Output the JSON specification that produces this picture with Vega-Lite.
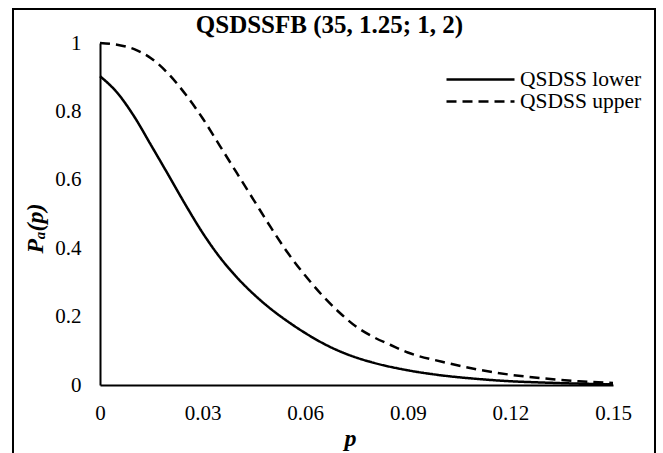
{
  "$schema": "https://vega.github.io/schema/vega-lite/v6.json",
  "width": 513,
  "height": 342,
  "autosize": {"type": "none"},
  "padding": {"left": 100, "top": 43, "right": 50, "bottom": 68},
  "background": "white",
  "config": {"view": {"stroke": null}, "font": "Liberation Serif", "legend": {"labelFont": "Liberation Serif"}},
  "title": {
    "text": "QSDSSFB (35, 1.25; 1, 2)",
    "font": "Liberation Serif",
    "fontSize": 25,
    "fontWeight": "bold",
    "color": "black",
    "anchor": "middle",
    "frame": "group",
    "dx": -27,
    "baseline": "alphabetic",
    "offset": -50
  },
  "datasets": {
    "curves": [
      {"p": 0, "v": 0.903, "series": "QSDSS lower"},
      {"p": 0.005, "v": 0.855, "series": "QSDSS lower"},
      {"p": 0.01, "v": 0.785, "series": "QSDSS lower"},
      {"p": 0.015, "v": 0.7, "series": "QSDSS lower"},
      {"p": 0.02, "v": 0.614, "series": "QSDSS lower"},
      {"p": 0.025, "v": 0.527, "series": "QSDSS lower"},
      {"p": 0.03, "v": 0.445, "series": "QSDSS lower"},
      {"p": 0.035, "v": 0.374, "series": "QSDSS lower"},
      {"p": 0.04, "v": 0.315, "series": "QSDSS lower"},
      {"p": 0.045, "v": 0.265, "series": "QSDSS lower"},
      {"p": 0.05, "v": 0.222, "series": "QSDSS lower"},
      {"p": 0.055, "v": 0.185, "series": "QSDSS lower"},
      {"p": 0.06, "v": 0.152, "series": "QSDSS lower"},
      {"p": 0.065, "v": 0.123, "series": "QSDSS lower"},
      {"p": 0.07, "v": 0.099, "series": "QSDSS lower"},
      {"p": 0.075, "v": 0.08, "series": "QSDSS lower"},
      {"p": 0.08, "v": 0.065, "series": "QSDSS lower"},
      {"p": 0.09, "v": 0.043, "series": "QSDSS lower"},
      {"p": 0.1, "v": 0.028, "series": "QSDSS lower"},
      {"p": 0.11, "v": 0.018, "series": "QSDSS lower"},
      {"p": 0.12, "v": 0.011, "series": "QSDSS lower"},
      {"p": 0.13, "v": 0.007, "series": "QSDSS lower"},
      {"p": 0.14, "v": 0.004, "series": "QSDSS lower"},
      {"p": 0.15, "v": 0.002, "series": "QSDSS lower"},
      {"p": 0, "v": 1.0, "series": "QSDSS upper"},
      {"p": 0.005, "v": 0.995, "series": "QSDSS upper"},
      {"p": 0.01, "v": 0.982, "series": "QSDSS upper"},
      {"p": 0.015, "v": 0.955, "series": "QSDSS upper"},
      {"p": 0.02, "v": 0.91, "series": "QSDSS upper"},
      {"p": 0.025, "v": 0.85, "series": "QSDSS upper"},
      {"p": 0.03, "v": 0.78, "series": "QSDSS upper"},
      {"p": 0.035, "v": 0.7, "series": "QSDSS upper"},
      {"p": 0.04, "v": 0.62, "series": "QSDSS upper"},
      {"p": 0.045, "v": 0.54, "series": "QSDSS upper"},
      {"p": 0.05, "v": 0.46, "series": "QSDSS upper"},
      {"p": 0.055, "v": 0.385, "series": "QSDSS upper"},
      {"p": 0.06, "v": 0.32, "series": "QSDSS upper"},
      {"p": 0.065, "v": 0.262, "series": "QSDSS upper"},
      {"p": 0.07, "v": 0.212, "series": "QSDSS upper"},
      {"p": 0.075, "v": 0.17, "series": "QSDSS upper"},
      {"p": 0.08, "v": 0.14, "series": "QSDSS upper"},
      {"p": 0.085, "v": 0.117, "series": "QSDSS upper"},
      {"p": 0.09, "v": 0.095, "series": "QSDSS upper"},
      {"p": 0.1, "v": 0.068, "series": "QSDSS upper"},
      {"p": 0.11, "v": 0.046, "series": "QSDSS upper"},
      {"p": 0.12, "v": 0.03, "series": "QSDSS upper"},
      {"p": 0.13, "v": 0.019, "series": "QSDSS upper"},
      {"p": 0.14, "v": 0.011, "series": "QSDSS upper"},
      {"p": 0.15, "v": 0.006, "series": "QSDSS upper"}
    ]
  },
  "layer": [
    {
      "data": {"name": "curves"},
      "mark": {"type": "line", "strokeWidth": 2.5, "color": "black", "interpolate": "monotone"},
      "encoding": {
        "x": {
          "field": "p",
          "type": "quantitative",
          "scale": {"domain": [0, 0.15], "nice": false, "zero": false},
          "axis": {
            "title": "p",
            "titleFont": "Liberation Serif",
            "titleFontSize": 24,
            "titleFontStyle": "italic",
            "titleFontWeight": "bold",
            "titleColor": "black",
            "titleX": 250,
            "titleY": 60,
            "titleAlign": "center",
            "titleBaseline": "alphabetic",
            "values": [0, 0.03, 0.06, 0.09, 0.12, 0.15],
            "format": "~g",
            "labelFont": "Liberation Serif",
            "labelFontSize": 21,
            "labelColor": "black",
            "labelPadding": 17,
            "labelFlush": false,
            "labelOverlap": false,
            "ticks": false,
            "tickSize": 0,
            "grid": false,
            "domainColor": "black",
            "domainWidth": 2
          }
        },
        "y": {
          "field": "v",
          "type": "quantitative",
          "scale": {"domain": [0, 1], "nice": false},
          "axis": {
            "title": "Pₐ(p)",
            "titleFont": "Liberation Serif",
            "titleFontSize": 24,
            "titleFontStyle": "italic",
            "titleFontWeight": "bold",
            "titleColor": "black",
            "titleAngle": -90,
            "titleX": -58,
            "titleY": 185,
            "titleAlign": "center",
            "titleBaseline": "alphabetic",
            "values": [0, 0.2, 0.4, 0.6, 0.8, 1],
            "format": "~g",
            "labelFont": "Liberation Serif",
            "labelFontSize": 21,
            "labelColor": "black",
            "labelPadding": 19,
            "labelFlush": false,
            "labelOverlap": false,
            "ticks": false,
            "tickSize": 0,
            "grid": false,
            "domainColor": "black",
            "domainWidth": 2
          }
        },
        "strokeDash": {
          "field": "series",
          "type": "nominal",
          "scale": {"domain": ["QSDSS lower", "QSDSS upper"], "range": [[1, 0], [10, 6]]},
          "legend": {
            "title": null,
            "orient": "none",
            "legendX": 345,
            "legendY": 26,
            "padding": 0,
            "rowPadding": 0,
            "clipHeight": 21,
            "symbolType": "stroke",
            "symbolSize": 4624,
            "symbolStrokeWidth": 2.5,
            "symbolStrokeColor": "black",
            "labelFont": "Liberation Serif",
            "labelFontSize": 21.5,
            "labelColor": "black",
            "labelOffset": 4
          }
        }
      }
    },
    {
      "data": {"values": [{}]},
      "mark": {"type": "rect", "filled": false, "stroke": "black", "strokeWidth": 2, "clip": false},
      "encoding": {
        "x": {"datum": -0.02544, "type": "quantitative"},
        "x2": {"datum": 0.16228},
        "y": {"datum": 1.0994, "type": "quantitative"},
        "y2": {"datum": -0.6}
      }
    }
  ]
}
